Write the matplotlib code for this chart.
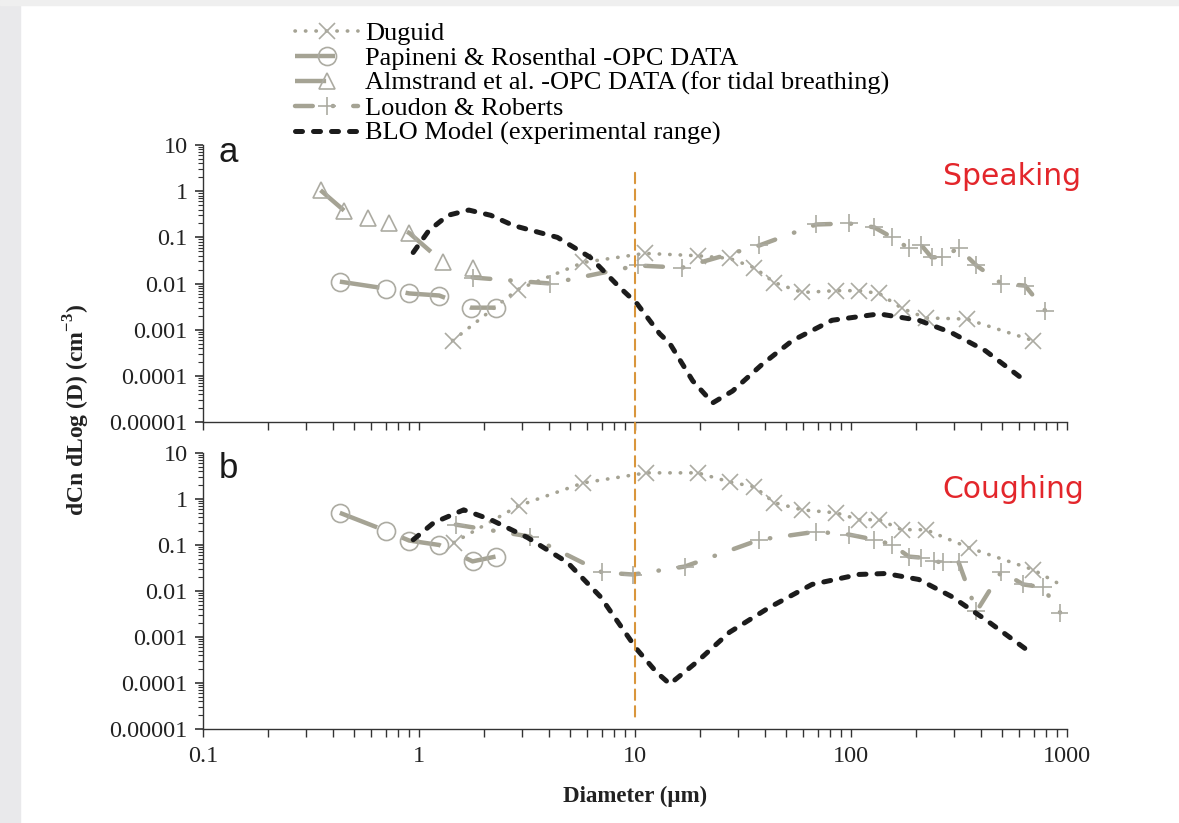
import numpy as np
import matplotlib
matplotlib.use('Agg')
import matplotlib.pyplot as plt
from matplotlib.patches import ConnectionPatch, Rectangle
from matplotlib.ticker import LogLocator, NullFormatter

# ---- data ----
x_ticks = [0.1, 1, 10, 100, 1000]
x_labels = ['0.1', '1', '10', '100', '1000']
y_ticks = [1e-5, 1e-4, 1e-3, 1e-2, 1e-1, 1, 10]
y_labels = ['0.00001', '0.0001', '0.001', '0.01', '0.1', '1', '10']

# (a) speaking
alm_a_x = [0.35, 0.45, 0.58, 0.73, 0.90, 1.29, 1.78]
alm_a_y = [1.05, 0.38, 0.26, 0.20, 0.125, 0.029, 0.022]

pap_a_x = [0.43, 0.70, 0.90, 1.24, 1.74, 2.26]
pap_a_y = [0.011, 0.0078, 0.0061, 0.0055, 0.0030, 0.0030]

dug_a_x = [1.43, 2.86, 5.76, 11.1, 19.5, 27.4, 35.7, 44.2, 59.4, 85.3, 109, 135, 172, 222, 343, 697]
dug_a_y = [0.00058, 0.0074, 0.0286, 0.045, 0.040, 0.035, 0.022, 0.0105, 0.0064, 0.0070,
           0.0070, 0.0061, 0.0029, 0.0018, 0.0017, 0.00058]

lou_a_x = [1.77, 4.06, 10.3, 16.5, 37.7, 69, 98, 128, 155, 185, 212, 236, 263, 315, 381, 497, 640, 792]
lou_a_y = [0.0135, 0.010, 0.0246, 0.022, 0.067, 0.19, 0.20, 0.165, 0.10, 0.058, 0.067, 0.037,
           0.037, 0.058, 0.0246, 0.010, 0.009, 0.0026]

blo_a_x = [0.94, 1.11, 1.36, 1.70, 2.15, 2.74, 4.37, 6.2, 8.5, 10.2, 13.0, 14.5, 18.5, 22.9, 28.3,
           38.9, 53.5, 81.7, 135, 206, 292, 419, 640]
blo_a_y = [0.047, 0.14, 0.30, 0.39, 0.30, 0.18, 0.10, 0.037, 0.0082, 0.0037, 0.00082, 0.0005,
           7.8e-5, 2.6e-5, 4.7e-5, 1.8e-4, 5.8e-4, 0.0016, 0.0022, 0.0016, 8.6e-4, 3.5e-4, 7.8e-5]

# (b) coughing
pap_b_x = [0.43, 0.70, 0.90, 1.24, 1.77, 2.26]
pap_b_y = [0.50, 0.205, 0.125, 0.10, 0.044, 0.056]

dug_b_x = [1.45, 2.89, 5.76, 11.3, 19.5, 27.4, 35.7, 44.2, 59.4, 85.3, 109, 135, 172, 222, 350, 697, 929]
dug_b_y = [0.113, 0.71, 2.24, 3.7, 3.7, 2.35, 1.84, 0.83, 0.58, 0.50, 0.355, 0.355, 0.215, 0.215,
           0.088, 0.029, 0.0139]

lou_b_x = [1.48, 3.28, 7.05, 9.8, 17, 37.7, 69, 98, 128, 155, 185, 212, 241, 268, 315, 381, 497, 627, 774, 929]
lou_b_y = [0.277, 0.152, 0.0253, 0.0228, 0.034, 0.13, 0.195, 0.168, 0.131, 0.102, 0.056, 0.053,
           0.044, 0.042, 0.042, 0.0036, 0.0265, 0.0139, 0.012, 0.0034]

blo_b_x = [0.94, 1.17, 1.61, 2.15, 3.18, 4.86, 6.9, 10.2, 12.6, 14.5, 19.3, 27.4, 41.9, 66, 109,
           145, 206, 292, 419, 647]
blo_b_y = [0.13, 0.305, 0.58, 0.355, 0.145, 0.042, 0.0076, 5.4e-4, 1.7e-4, 9.5e-5, 2.85e-4,
           1.27e-3, 4.4e-3, 0.0139, 0.0229, 0.024, 0.0178, 0.0076, 0.0024, 5.4e-4]

# vertical reference line at 10 um
vline_x = 10
vline_top = 2.5      # in panel a
vline_bottom = 1.4e-5  # in panel b

labels = ['Duguid', 'Papineni & Rosenthal -OPC DATA',
          'Almstrand et al. -OPC DATA (for tidal breathing)',
          'Loudon & Roberts', 'BLO Model (experimental range)']

plt.rcParams['font.family'] = ['Liberation Serif', 'DejaVu Serif']
plt.rcParams['mathtext.fontset'] = 'custom'
plt.rcParams['mathtext.rm'] = 'Liberation Serif'
plt.rcParams['mathtext.bf'] = 'Liberation Serif:bold'

GRAY = '#a5a394'
MGRAY = '#acaba2'
BLACK = '#1c1c1c'

fig = plt.figure(figsize=(11.79, 8.23), dpi=100)
fig.patches.append(Rectangle((0, 0), 20 / 1179, 1, transform=fig.transFigure,
                             color='#e9e9eb', zorder=-10))
fig.patches.append(Rectangle((0, 1 - 5 / 823), 1, 5 / 823, transform=fig.transFigure,
                             color='#efefef', zorder=-10))

ax_a = fig.add_axes([0.1722, 0.4872, 0.7328, 0.3366])
ax_b = fig.add_axes([0.1722, 0.1142, 0.7328, 0.3354])


def style(ax, show_x):
    ax.set_xscale('log')
    ax.set_yscale('log')
    ax.set_xlim(0.1, 1000)
    ax.set_ylim(1e-5, 10)
    for s in ['top', 'right']:
        ax.spines[s].set_visible(False)
    for s in ['left', 'bottom']:
        ax.spines[s].set_color('#333333')
        ax.spines[s].set_linewidth(1.0)
    ax.set_xticks(x_ticks)
    ax.set_xticklabels(x_labels if show_x else [])
    ax.set_yticks(y_ticks)
    ax.set_yticklabels(y_labels)
    ax.xaxis.set_minor_locator(LogLocator(base=10, subs=np.arange(2, 10), numticks=20))
    ax.yaxis.set_minor_locator(LogLocator(base=10, subs=np.arange(2, 10), numticks=20))
    ax.xaxis.set_minor_formatter(NullFormatter())
    ax.yaxis.set_minor_formatter(NullFormatter())
    ax.tick_params(axis='x', which='both', direction='out', length=6, width=1,
                   color='#333333', labelsize=17.5, labelcolor='#222222', pad=6)
    ax.tick_params(axis='y', which='major', direction='out', length=6, width=1.2,
                   color='#333333', labelsize=17.5, labelcolor='#222222', pad=5)
    ax.tick_params(axis='y', which='minor', direction='out', length=3.5, width=0.8,
                   color='#333333')


def dug(ax, x, y, **kw):
    return ax.plot(x, y, color=GRAY, lw=2.6, linestyle=(0, (0.1, 2.8)), dash_capstyle='round',
                   marker='x', ms=12, mew=1.2, mec=MGRAY, **kw)[0]


def pap(ax, x, y):
    return ax.plot(x, y, color=GRAY, lw=3.2, linestyle=(0, (9, 6)), marker='o', ms=13,
                   mfc='none', mec=MGRAY, mew=1.2)[0]


def alm(ax, x, y):
    return ax.plot(x, y, color=GRAY, lw=3.2, linestyle=(0, (7, 15)), marker='^', ms=12,
                   mfc='none', mec=MGRAY, mew=1.2)[0]


def lou(ax, x, y):
    return ax.plot(x, y, color=GRAY, lw=3.2, linestyle=(0, (4, 4.5, 0.1, 4.5)),
                   dash_capstyle='round', marker='+', ms=13, mec=MGRAY, mew=1.2)[0]


def blo(ax, x, y):
    return ax.plot(x, y, color=BLACK, lw=3.6, linestyle=(0, (1.4, 2.2)),
                   dash_capstyle='round', zorder=5)[0]


style(ax_a, False)
style(ax_b, True)

h1 = dug(ax_a, dug_a_x, dug_a_y)
h2 = pap(ax_a, pap_a_x, pap_a_y)
h3 = alm(ax_a, alm_a_x, alm_a_y)
h4 = lou(ax_a, lou_a_x, lou_a_y)
h5 = blo(ax_a, blo_a_x, blo_a_y)

dug(ax_b, dug_b_x, dug_b_y, markevery=slice(0, len(dug_b_x) - 1))
pap(ax_b, pap_b_x, pap_b_y)
lou(ax_b, lou_b_x, lou_b_y)
blo(ax_b, blo_b_x, blo_b_y)

ax_a.text(0.018, 0.938, 'a', transform=ax_a.transAxes, family='Liberation Sans',
          fontsize=25, va='baseline', color='#1a1a1a')
ax_b.text(0.018, 0.91, 'b', transform=ax_b.transAxes, family='Liberation Sans',
          fontsize=25, va='baseline', color='#1a1a1a')
ax_a.text(0.856, 0.855, 'Speaking', transform=ax_a.transAxes, family='DejaVu Sans',
          fontsize=21.5, va='baseline', color='#e3262b')
ax_b.text(0.856, 0.838, 'Coughing', transform=ax_b.transAxes, family='DejaVu Sans',
          fontsize=21.5, va='baseline', color='#e3262b')

ax_b.set_xlabel('Diameter (µm)', fontsize=16.5, fontweight='bold', labelpad=14, color='#222222')
fig.text(77 / 1179, 1 - 410 / 823, r'dCn dLog (D) (cm$^{\mathbf{-3}}$)', rotation=90,
         ha='center', va='center', fontsize=17, fontweight='bold', color='#222222')

con = ConnectionPatch(xyA=(vline_x, vline_top), coordsA=ax_a.transData,
                      xyB=(vline_x, vline_bottom), coordsB=ax_b.transData,
                      color='#d9963c', linestyle=(0, (5, 3)), lw=1.5)
fig.add_artist(con)

fig.legend([h1, h2, h3, h4, h5], labels, loc='upper left',
           bbox_to_anchor=(295 / 1179, 1 - 22 / 823), frameon=False, fontsize=19,
           handlelength=2.4, handletextpad=0.27, labelspacing=0.05, borderpad=0,
           borderaxespad=0, numpoints=1)

fig.savefig('out.png', dpi=100)
